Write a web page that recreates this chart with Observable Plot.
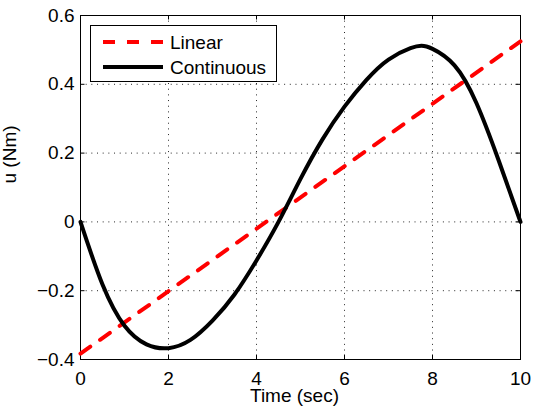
<!DOCTYPE html>
<html>
<head>
<meta charset="utf-8">
<script src="https://cdn.jsdelivr.net/npm/d3@7"></script>
<script src="https://cdn.jsdelivr.net/npm/@observablehq/plot@0.6"></script>
<style>
  body { margin: 0; background: #fff; }
  #chart svg { display: block; }
</style>
</head>
<body>
<div id="chart"></div>
<script>
// Control torque profiles over a 10 s manoeuvre
const linearTime = [0, 10];
const linearTorque = [-0.383, 0.525];

const contTime = [0, 0.5, 1, 1.5, 2, 2.5, 3, 3.5, 4, 4.5, 5, 5.5, 6,
                  6.5, 7, 7.5, 7.75, 8, 8.5, 9, 9.5, 10];
const contTorque = [0, -0.182, -0.302, -0.356, -0.367, -0.343, -0.287, -0.211, -0.112,
                    0.000, 0.125, 0.240, 0.335, 0.413, 0.472, 0.505, 0.512, 0.503,
                    0.455, 0.345, 0.180, 0];

const xTicks = [0, 2, 4, 6, 8, 10];
const yTicks = [-0.4, -0.2, 0, 0.2, 0.4, 0.6];
const seriesNames = ["Linear", "Continuous"];
const xLabel = "Time (sec)";
const yLabel = "u (Nm)";

const W = 533, H = 414;
const mL = 80, mR = 13, mT = 15, mB = 55;
const innerW = W - mL - mR, innerH = H - mT - mB;
const tickLen = 4.5;
const font = "'Liberation Sans', Arial, Helvetica, sans-serif";
const gridStyle = {stroke: "#000", strokeOpacity: 0.85, strokeDasharray: "1,4.67"};
const numFormat = d => String(d).replace("-", "\u2212");

const linearData = linearTime.map((t, i) => ({t, u: linearTorque[i]}));
const contData = contTime.map((t, i) => ({t, u: contTorque[i]}));

const plot = Plot.plot({
  width: W, height: H,
  marginLeft: mL, marginRight: mR, marginTop: mT, marginBottom: mB,
  style: {fontFamily: font, fontSize: "19px", color: "#000", background: "#fff"},
  x: {domain: [0, 10]},
  y: {domain: [-0.4, 0.6]},
  marks: [
    Plot.gridX(xTicks, gridStyle),
    Plot.gridY(yTicks, gridStyle),
    // inward ticks on all four sides
    Plot.tickX(xTicks, {x: d => d, insetTop: innerH - tickLen, stroke: "#000"}),
    Plot.tickX(xTicks, {x: d => d, insetBottom: innerH - tickLen, stroke: "#000"}),
    Plot.tickY(yTicks, {y: d => d, insetRight: innerW - tickLen, stroke: "#000"}),
    Plot.tickY(yTicks, {y: d => d, insetLeft: innerW - tickLen, stroke: "#000"}),
    Plot.axisX(xTicks, {tickSize: 0, tickPadding: 11.5, label: null, fontSize: 19, tickFormat: numFormat}),
    Plot.axisY(yTicks, {tickSize: 0, tickPadding: 6, label: null, fontSize: 19, tickFormat: numFormat}),
    Plot.frame({stroke: "#000"}),
    Plot.line(linearData, {x: "t", y: "u", stroke: "#ff0000", strokeWidth: 4, strokeDasharray: "12,12"}),
    Plot.line(contData, {x: "t", y: "u", stroke: "#000", strokeWidth: 4, curve: "natural"}),
    Plot.text([xLabel], {text: d => d, frameAnchor: "bottom", lineAnchor: "bottom", dy: 42, dx: -6, fontSize: 19}),
    Plot.text([yLabel], {text: d => d, frameAnchor: "left", lineAnchor: "bottom", rotate: -90, dx: -65, dy: -4, fontSize: 19})
  ]
});

// Legend box in the upper-left corner of the axes
const svg = d3.select(plot);
const lg = svg.append("g")
  .attr("font-family", font).attr("font-size", 19).attr("text-anchor", "start");
lg.append("rect")
  .attr("x", 90.5).attr("y", 25.5).attr("width", 186).attr("height", 56)
  .attr("fill", "#fff").attr("stroke", "#000");
const legendStyles = [
  {stroke: "#ff0000", dash: "12,12", y: 42, base: 48.5},
  {stroke: "#000", dash: null, y: 67, base: 73.5}
];
seriesNames.forEach((name, i) => {
  const s = legendStyles[i];
  lg.append("line")
    .attr("x1", 103).attr("x2", 163).attr("y1", s.y).attr("y2", s.y)
    .attr("stroke", s.stroke).attr("stroke-width", 4)
    .attr("stroke-dasharray", s.dash);
  lg.append("text").attr("x", 170).attr("y", s.base).attr("fill", "#000").text(name);
});

document.getElementById("chart").appendChild(plot);
</script>
</body>
</html>
